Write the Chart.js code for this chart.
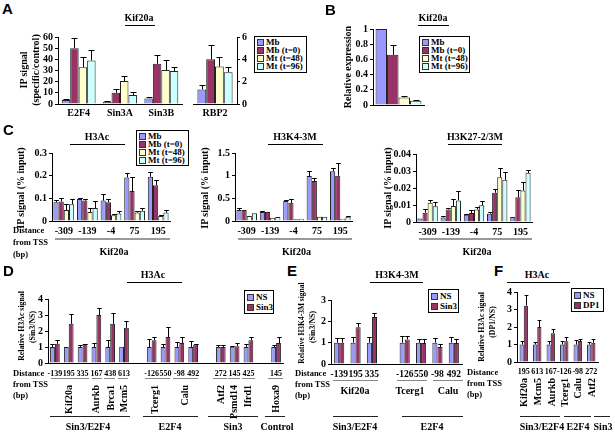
<!DOCTYPE html>
<html><head><meta charset="utf-8">
<script src="https://cdn.jsdelivr.net/npm/chart.js@4"></script>
<style>
body{margin:0;background:#fff;}
#root{position:relative;width:615px;height:435px;overflow:hidden;font-family:"Liberation Serif","Times New Roman",serif;font-weight:bold;color:#000;}
.t{position:absolute;white-space:nowrap;line-height:1;z-index:5;}
.hl{position:absolute;height:0;z-index:5;}
.leg{position:absolute;border:1px solid #000;background:#fff;z-index:6;box-sizing:border-box;padding:1px 2px;overflow:visible;}
.leg div{display:flex;align-items:center;white-space:nowrap;line-height:1;}
.leg span.sw{display:inline-block;flex:0 0 auto;width:5px;height:5px;border:1px solid #333;margin-right:2px;}
canvas{z-index:1;}
</style></head>
<body><div id="root"></div>
<script>
// ---------------- DATA ----------------
const seriesTime = ['Mb','Mb (t=0)','Mt (t=48)','Mt (t=96)'];
// Panel A
const catA = ['E2F4','Sin3A','Sin3B'];
const a_Mb = [3.5, 2, 5],      a_Mb_sd = [0.8, 0.6, 1.2];
const a_t0 = [50, 10, 36],     a_t0_sd = [9.5, 3, 8];
const a_t48 = [33, 20.5, 30.5], a_t48_sd = [9.5, 4.5, 9];
const a_t96 = [39, 8, 29.5],   a_t96_sd = [9.5, 3, 3.2];
const catRBP = ['RBP2'];
const rbp2Means = [1.3, 4.0, 3.35, 2.85], rbp2Sd = [0.4, 1.25, 0.85, 0.45];
const ticksA = [0, 10, 20, 30, 40, 50, 60];
const ticksRBP = [0, 2, 4, 6];
// Panel B
const exprMeans = [1, 0.66, 0.1, 0.055], exprSd = [0, 0.13, 0.012, 0.012];
const ticksB = [0, 0.2, 0.4, 0.6, 0.8, 1];
// Panel C
const tss = ['-309','-139','-4','75','195'];
const h3ac_Mb = [0.0825, 0.0975, 0.09, 0.192, 0.195],  h3ac_Mb_sd = [0.011, 0.005, 0.027, 0.021, 0.02];
const h3ac_t0 = [0.086, 0.09, 0.083, 0.132, 0.158],    h3ac_t0_sd = [0.016, 0.008, 0.015, 0.06, 0.025];
const h3ac_t48 = [0.048, 0.04, 0.0255, 0.0375, 0.0225], h3ac_t48_sd = [0.027, 0.017, 0.006, 0.008, 0.003];
const h3ac_t96 = [0.074, 0.057, 0.033, 0.045, 0.0375], h3ac_t96_sd = [0.021, 0.03, 0.009, 0.012, 0.011];
const h3k4_Mb = [0.24, 0.2, 0.44, 0.99, 1.1],   h3k4_Mb_sd = [0.04, 0.015, 0.015, 0.11, 0.08];
const h3k4_t0 = [0.24, 0.2, 0.4, 0.88, 1.0],    h3k4_t0_sd = [0, 0, 0.08, 0.07, 0.28];
const h3k4_t48 = [0.11, 0.073, 0.037, 0.095, 0.05], h3k4_t48_sd = [0, 0, 0, 0, 0];
const h3k4_t96 = [0.17, 0.088, 0.05, 0.095, 0.095], h3k4_t96_sd = [0, 0, 0, 0, 0.01];
const h3k27_Mb = [0.002, 0.0027, 0.0043, 0.0049, 0.0029],  h3k27_Mb_sd = [0, 0.0008, 0.0006, 0.001, 0];
const h3k27_t0 = [0.0055, 0.0074, 0.0053, 0.0172, 0.0146], h3k27_t0_sd = [0.002, 0.0008, 0.0015, 0.002, 0.0045];
const h3k27_t48 = [0.0113, 0.0094, 0.0074, 0.0263, 0.0185], h3k27_t48_sd = [0.0014, 0.004, 0.0014, 0.0055, 0.0053];
const h3k27_t96 = [0.0092, 0.0127, 0.0098, 0.0248, 0.0289], h3k27_t96_sd = [0.0025, 0.0058, 0.0023, 0.0049, 0.0017];
const ticksH3Ac = [0, 0.1, 0.2, 0.3];
const ticksH3K4 = [0, 0.5, 1, 1.5];
const ticksH3K27 = [0, 0.01, 0.02, 0.03, 0.04];
// Panel D
const dLabels = ['-139','195','335','167','438','613','','-126','550','-98','492','','272','145','425','','145'];
const d_NS    = [1,1,1,1,1,1.02,null,1,1,1,1,null,1,1.02,1,null,1];
const d_NS_sd = [0.2,0,0.12,0.25,0.42,0,null,0.48,0.2,0.3,0.35,null,0.12,0.03,0.18,null,0.15];
const d_Sin3    = [1.2,2.45,1.18,3.0,2.45,2.2,null,1.42,1.62,1.25,1.15,null,1.0,1.05,1.42,null,1.25];
const d_Sin3_sd = [0.22,0.6,0.02,0.45,0.7,0.4,null,0.23,0.63,0.35,0.05,null,0.12,0.23,0.2,null,0.4];
const dGenes = ['Kif20a','Aurkb','Brca1','Mcm5','Tcerg1','Calu','Atf2','Psmd14','Ifrd1','Hoxa9'];
const dGroups = ['Sin3/E2F4','E2F4','Sin3','Control'];
const ticksD = [0, 1, 2, 3, 4];
// Panel E
const eLabels = ['-139','195','335','','-126','550','-98','492'];
const e_NS    = [1,1,1,null,1,1,1,1],          e_NS_sd = [0.22,0.28,0.28,null,0.3,0.17,0.22,0.28];
const e_Sin3  = [1.0,1.72,2.2,null,1.15,0.98,0.8,0.98], e_Sin3_sd = [0.2,0.2,0.2,null,0.17,0.17,0.15,0.2];
const eGenes = ['Kif20a','Tcerg1','Calu'];
const eGroups = ['Sin3/E2F4','E2F4'];
const ticksE = [0, 1, 2, 3];
// Panel F
const fLabels = ['195','613','167','-126','-98','272'];
const f_NS  = [1,1,1,1,1,1],              f_NS_sd = [0.2,0.15,0.2,0.2,0.25,0.12];
const f_DP1 = [3.22,2.0,1.65,1.18,1.2,1.1], f_DP1_sd = [0.58,0.42,0.23,0.27,0.1,0.22];
const fGenes = ['Kif20a','Mcm5','Aurkb','Tcerg1','Calu','Atf2'];
const fGroups = ['Sin3/E2F4','E2F4','Sin3'];
const ticksF = [0, 1, 2, 3, 4];

// ---------------- STYLE ----------------
const COL4 = ['#9999FF','#993366','#FFFFCC','#CCFFFF'];
const COL2 = ['#9999FF','#993366'];
const SERIF = '"Liberation Serif","Times New Roman",serif';
Chart.defaults.font.family = SERIF;
Chart.defaults.font.weight = 'bold';
Chart.defaults.color = '#000';

const root = document.getElementById('root');

const errPlugin = {
  id: 'errbars',
  afterDatasetsDraw(chart) {
    const ctx = chart.ctx;
    const ys = chart.scales.y;
    ctx.save();
    ctx.strokeStyle = '#000';
    ctx.lineWidth = 1;
    chart.data.datasets.forEach((ds, i) => {
      if (!ds.err) return;
      const meta = chart.getDatasetMeta(i);
      meta.data.forEach((bar, j) => {
        const v = ds.data[j], e = ds.err[j];
        if (v == null || !e) return;
        const x = Math.round(bar.x) + 0.5;
        const yT = Math.round(ys.getPixelForValue(v + e)) + 0.5;
        const yB = ys.getPixelForValue(v);
        const cap = Math.min(3, bar.width * 0.45);
        ctx.beginPath();
        ctx.moveTo(x, yB); ctx.lineTo(x, yT);
        ctx.moveTo(x - cap, yT); ctx.lineTo(x + cap, yT);
        ctx.stroke();
      });
    });
    ctx.restore();
  }
};

const YW = 34, XH = 20, PT = 8, PR = 12;
function fmt(v){ return String(+v.toFixed(4)); }
function mkChart(plot, o) {
  const right = !!o.yRight;
  const cw = plot.r - plot.l + YW + PR;
  const ch = plot.b - plot.t + PT + XH;
  const cx = right ? plot.l - PR : plot.l - YW;
  const cy = plot.t - PT;
  const cv = document.createElement('canvas');
  cv.width = cw; cv.height = ch;
  cv.style.cssText = `position:absolute;left:${cx}px;top:${cy}px;width:${cw}px;height:${ch}px;`;
  root.appendChild(cv);
  const tk = o.ticks;
  new Chart(cv, {
    type: 'bar',
    data: {
      labels: o.labels,
      datasets: o.series.map((vals, i) => ({
        label: o.names[i], data: vals, err: o.errs[i],
        backgroundColor: o.colors[i], borderColor: '#222', borderWidth: 1,
        categoryPercentage: o.cp, barPercentage: 1
      }))
    },
    options: {
      responsive: false, animation: false, devicePixelRatio: 1, events: [],
      layout: {padding: {left: right ? PR : 0, right: right ? 0 : PR, top: PT, bottom: 0}},
      plugins: {legend: {display: false}, tooltip: {enabled: false}},
      scales: {
        x: {
          type: 'category', offset: true,
          ticks: {display: o.xTicks !== false, autoSkip: false, maxRotation: 0, minRotation: 0,
                  font: {size: o.xFont || 10, weight: 'bold', family: SERIF}, color: '#000', padding: o.xPad || 3},
          grid: {display: false, drawTicks: false, tickLength: 0},
          border: {display: true, color: '#000', width: 1},
          afterFit(s) { s.height = XH; }
        },
        y: {
          position: right ? 'right' : 'left',
          min: tk[0], max: tk[tk.length - 1],
          afterBuildTicks(s) { s.ticks = tk.map(v => ({value: v})); },
          ticks: {autoSkip: false, callback: fmt, font: {size: o.yFont || 10, weight: 'bold', family: SERIF}, color: '#000', padding: 2},
          grid: {display: true, drawOnChartArea: false, drawTicks: true, tickLength: 3, color: '#000'},
          border: {display: true, color: '#000', width: 1},
          afterFit(s) { s.width = YW; }
        }
      }
    },
    plugins: [errPlugin]
  });
}

// ---------- text helpers ----------
function T(x, y, s, size, o = {}) {
  const d = document.createElement('div');
  d.className = 't';
  d.textContent = s;
  d.style.left = x + 'px'; d.style.top = y + 'px';
  d.style.fontSize = size + 'px';
  if (o.font) d.style.fontFamily = o.font;
  if (o.rot) d.style.transform = 'translate(-50%,-50%) rotate(-90deg)';
  else if (o.left) d.style.transform = 'translate(0,-50%)';
  else if (o.rtop) { d.style.transformOrigin = '0 0'; d.style.transform = 'rotate(-90deg) translate(-100%,-50%)'; }
  else d.style.transform = 'translate(-50%,-50%)';
  root.appendChild(d);
}
function L(x1, x2, y, color, w) {
  const d = document.createElement('div');
  d.className = 'hl';
  d.style.left = x1 + 'px'; d.style.top = y + 'px'; d.style.width = (x2 - x1) + 'px';
  d.style.borderTop = (w || 1) + 'px solid ' + (color || '#000');
  root.appendChild(d);
}
function LEG(x, y, w, h, names, colors, size) {
  const d = document.createElement('div');
  d.className = 'leg';
  d.style.left = x + 'px'; d.style.top = y + 'px'; d.style.width = w + 'px'; d.style.height = h + 'px';
  d.style.fontSize = size + 'px';
  names.forEach((n, i) => {
    const r = document.createElement('div');
    r.style.height = ((h - 4) / names.length) + 'px';
    const sw = document.createElement('span'); sw.className = 'sw'; sw.style.background = colors[i];
    r.appendChild(sw); r.appendChild(document.createTextNode(n));
    d.appendChild(r);
  });
  root.appendChild(d);
}
const SANS = '"Liberation Sans",Arial,sans-serif';
function LETTER(x, y, s) {
  const d = document.createElement('div');
  d.className = 't'; d.textContent = s;
  d.style.left = x + 'px'; d.style.top = y + 'px';
  d.style.fontFamily = SANS; d.style.fontSize = '15px'; d.style.fontWeight = 'bold';
  root.appendChild(d);
}

// ================= PANEL A =================
LETTER(2, 1, 'A');
T(139, 18, 'Kif20a', 10); L(125, 155, 25);
mkChart({l: 58, r: 182, t: 37, b: 104}, {
  labels: catA, series: [a_Mb, a_t0, a_t48, a_t96], errs: [a_Mb_sd, a_t0_sd, a_t48_sd, a_t96_sd],
  names: seriesTime, colors: COL4, cp: 0.82, ticks: ticksA
});
mkChart({l: 193, r: 237, t: 37, b: 104}, {
  labels: catRBP, series: rbp2Means.map(v => [v]), errs: rbp2Sd.map(v => [v]),
  names: seriesTime, colors: COL4, cp: 0.8, ticks: ticksRBP, yRight: true
});
T(24, 70, 'IP signal', 10, {rot: true});
T(36, 70, '(specific/control)', 10, {rot: true});
LEG(254, 36, 53, 37, seriesTime, COL4, 9);

// ================= PANEL B =================
LETTER(325, 2, 'B');
T(433, 18, 'Kif20a', 10); L(418, 449, 25);
mkChart({l: 373, r: 424, t: 29, b: 105}, {
  labels: [''], series: exprMeans.map(v => [v]), errs: exprSd.map(v => [v]),
  names: seriesTime, colors: COL4, cp: 0.9, ticks: ticksB, xTicks: false
});
T(348, 67, 'Relative expression', 10, {rot: true});
LEG(419, 36, 51, 37, seriesTime, COL4, 9);

// ================= PANEL C =================
LETTER(3, 122, 'C');
const cPlots = [
  {box: {l: 52, r: 170, t: 153, b: 221}, s: [h3ac_Mb, h3ac_t0, h3ac_t48, h3ac_t96], e: [h3ac_Mb_sd, h3ac_t0_sd, h3ac_t48_sd, h3ac_t96_sd], ticks: ticksH3Ac, title: 'H3Ac', tx: 97, ul: [70, 125], yt: 21},
  {box: {l: 235, r: 352, t: 153, b: 221}, s: [h3k4_Mb, h3k4_t0, h3k4_t48, h3k4_t96], e: [h3k4_Mb_sd, h3k4_t0_sd, h3k4_t48_sd, h3k4_t96_sd], ticks: ticksH3K4, title: 'H3K4-3M', tx: 295, ul: [268, 323], yt: 205},
  {box: {l: 416, r: 532, t: 154, b: 222}, s: [h3k27_Mb, h3k27_t0, h3k27_t48, h3k27_t96], e: [h3k27_Mb_sd, h3k27_t0_sd, h3k27_t48_sd, h3k27_t96_sd], ticks: ticksH3K27, title: 'H3K27-2/3M', tx: 475, ul: [448, 502], yt: 388}
];
cPlots.forEach(p => {
  mkChart(p.box, {labels: tss, series: p.s, errs: p.e, names: seriesTime, colors: COL4, cp: 0.88, ticks: p.ticks, xPad: 4});
  T(p.tx, 137, p.title, 10); L(p.ul[0], p.ul[1], 144);
  T(p.yt, 188, 'IP signal (% input)', 10, {rot: true});
  L(p.box.l + 3, p.box.r, 238, '#999', 2);
  T((p.box.l + p.box.r) / 2 + 3, 252, 'Kif20a', 10);
});
LEG(136, 130, 53, 36, seriesTime, COL4, 9);
T(13, 230, 'Distance', 8.5, {left: true});
T(13, 242, 'from TSS', 8.5, {left: true});
T(13, 254, '(bp)', 8.5, {left: true});

// ================= PANEL D =================
LETTER(3, 263, 'D');
T(153, 275, 'H3Ac', 10); L(127, 182, 282);
mkChart({l: 48, r: 283, t: 299, b: 363}, {
  labels: dLabels, series: [d_NS, d_Sin3], errs: [d_NS_sd, d_Sin3_sd],
  names: ['NS','Sin3'], colors: COL2, cp: 0.7, ticks: ticksD, xFont: 8, xPad: 6
});
T(22, 326, 'Relative H3Ac signal', 7.8, {rot: true});
T(33, 327, '(Sin3/NS)', 7.8, {rot: true});
LEG(244, 290, 30, 24, ['NS','Sin3'], COL2, 9);
T(13, 373, 'Distance', 8.5, {left: true});
T(13, 384, 'from TSS', 8.5, {left: true});
T(13, 395, '(bp)', 8.5, {left: true});
// gene underlines + rotated gene names
[[51, 89], [92, 102], [104, 115], [118, 128], [145, 170], [173, 198], [213, 227], [228, 240], [242, 255], [268, 283]].forEach(r => L(r[0], r[1], 378, '#888', 1));
[69, 96, 111, 124, 155, 185, 221, 234, 248, 276].forEach((x, i) => T(x, 385, dGenes[i], 10, {rtop: true}));
[[50, 130], [143, 198], [208, 258], [265, 285]].forEach(r => L(r[0], r[1], 416, '#222', 1));
[88, 170, 233, 277].forEach((x, i) => T(x, 427, dGroups[i], 10));

// ================= PANEL E =================
LETTER(287, 263, 'E');
T(397, 275, 'H3K4-3M', 10); L(370, 423, 282);
mkChart({l: 331, r: 462, t: 300, b: 364}, {
  labels: eLabels, series: [e_NS, e_Sin3], errs: [e_NS_sd, e_Sin3_sd],
  names: ['NS','Sin3'], colors: COL2, cp: 0.62, ticks: ticksE, xFont: 9.5, xPad: 5
});
T(302, 323, 'Relative H3K4-3M signal', 7.5, {rot: true});
T(313, 327, '(Sin3/NS)', 7.8, {rot: true});
LEG(428, 289, 31, 24, ['NS','Sin3'], COL2, 9);
T(295, 373, 'Distance', 8.5, {left: true});
T(295, 384, 'from TSS', 8.5, {left: true});
T(295, 395, '(bp)', 8.5, {left: true});
[[333, 378], [397, 427], [433, 463]].forEach(r => L(r[0], r[1], 380, '#888', 1));
[355, 410, 448].forEach((x, i) => T(x, 391, eGenes[i], 10));
[[333, 378], [402, 463]].forEach(r => L(r[0], r[1], 416, '#222', 1));
[355, 432].forEach((x, i) => T(x, 427, eGroups[i], 10));

// ================= PANEL F =================
LETTER(494, 263, 'F');
T(537, 275, 'H3Ac', 10); L(507, 570, 282);
mkChart({l: 517, r: 598, t: 292, b: 362}, {
  labels: fLabels, series: [f_NS, f_DP1], errs: [f_NS_sd, f_DP1_sd],
  names: ['NS','DP1'], colors: COL2, cp: 0.62, ticks: ticksF, xFont: 8, xPad: 5
});
T(482, 327, 'Relative H3Ac signal', 7.8, {rot: true});
T(493, 322, '(DP1/NS)', 7.8, {rot: true});
LEG(571, 288, 33, 24, ['NS','DP1'], COL2, 9);
T(467, 372, 'Distance', 8.5, {left: true});
T(467, 383, 'from TSS', 8.5, {left: true});
T(467, 394, '(bp)', 8.5, {left: true});
[524, 538, 552, 565, 578, 592].forEach((x, i) => T(x, 378, fGenes[i], 10, {rtop: true}));
[[520, 560], [564, 591], [594, 610]].forEach(r => L(r[0], r[1], 416, '#222', 1));
[542, 578, 603].forEach((x, i) => T(x, 427, fGroups[i], 10));
</script>
</body></html>
